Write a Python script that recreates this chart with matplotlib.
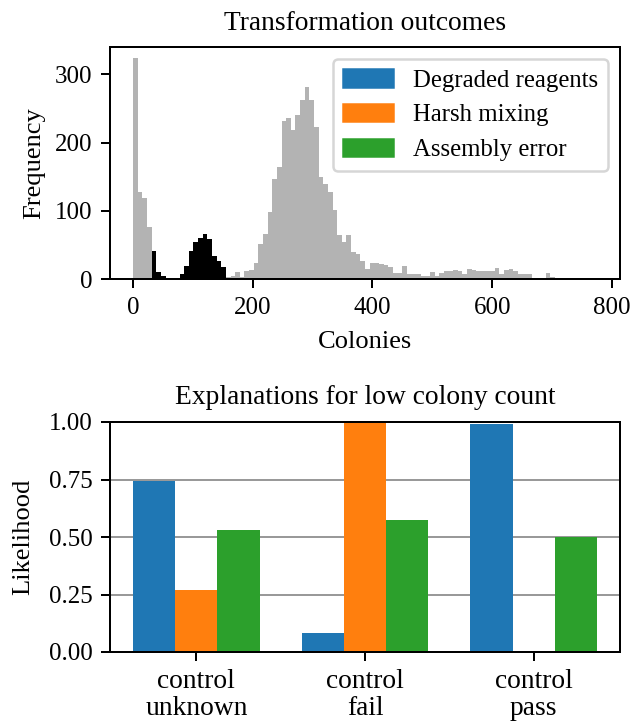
import matplotlib
matplotlib.use('Agg')
import matplotlib.pyplot as plt
import numpy as np
from matplotlib.patches import Patch

plt.rcParams['font.family'] = ['Liberation Serif', 'DejaVu Serif']
plt.rcParams['font.size'] = 10
plt.rcParams['axes.titlesize'] = 11
plt.rcParams['axes.labelsize'] = 10.6
plt.rcParams['xtick.labelsize'] = 10
plt.rcParams['ytick.labelsize'] = 10
plt.rcParams['legend.fontsize'] = 9.9

# histogram of colony counts, 100 bins of equal width
bin_width = 7.75
counts = [324, 128, 119, 76, 41, 10, 4, 1, 1, 1,
          8, 19, 41, 54, 60, 66, 59, 34, 26, 17,
          3, 4, 10, 3, 11, 13, 24, 51, 66, 98,
          146, 164, 231, 236, 218, 240, 262, 281, 262, 223,
          150, 139, 128, 101, 64, 54, 64, 40, 37, 26,
          15, 24, 24, 22, 20, 17, 9, 9, 19, 7,
          8, 7, 5, 5, 10, 4, 9, 11, 12, 13,
          11, 7, 15, 13, 11, 11, 11, 11, 16, 8,
          13, 15, 12, 8, 8, 8, 0, 0, 0, 9,
          3, 0, 0, 2, 0, 0, 0, 0, 0, 0]
# bins flagged as low colony count (drawn black)
low_bins = list(range(4, 20))

labels = ["Degraded reagents", "Harsh mixing", "Assembly error"]
conditions = ["control\nunknown", "control\nfail", "control\npass"]
degraded = [0.745, 0.083, 0.99]
harsh = [0.27, 1.0, 0.0]
assembly = [0.53, 0.575, 0.50]

W, H = 633, 722
fig = plt.figure(figsize=(W / 180, H / 180), dpi=180)

# top: histogram
ax1 = fig.add_axes([110 / W, 1 - 279 / H, 510 / W, 232 / H])
edges = np.arange(len(counts)) * bin_width
colors = ['black' if i in low_bins else '#b3b3b3' for i in range(len(counts))]
ax1.bar(edges, counts, width=bin_width, align='edge', color=colors, linewidth=0)
ax1.set_title("Transformation outcomes", pad=7)
ax1.set_xlabel("Colonies", labelpad=5)
ax1.set_ylabel("Frequency", labelpad=4)
ax1.set_xticks([0, 200, 400, 600, 800])
ax1.set_yticks([0, 100, 200, 300])
handles = [Patch(color='C0'), Patch(color='C1'), Patch(color='C2')]
ax1.legend(handles, labels, loc='upper right')

# bottom: grouped bars
ax2 = fig.add_axes([110 / W, 1 - 652 / H, 510 / W, 230 / H])
x = np.arange(len(conditions))
w = 0.25
ax2.bar(x - w, degraded, w, color='C0')
ax2.bar(x, harsh, w, color='C1')
ax2.bar(x + w, assembly, w, color='C2')
ax2.set_ylim(0, 1)
ax2.set_yticks([0, 0.25, 0.5, 0.75, 1.0])
ax2.set_xticks(x)
ax2.set_xticklabels(conditions, fontsize=11, linespacing=1.1)
ax2.yaxis.grid(True, color='0.6')
ax2.set_axisbelow(True)
ax2.set_title("Explanations for low colony count", pad=7)
ax2.set_ylabel("Likelihood", labelpad=6)

fig.savefig("out.png", dpi=180)
